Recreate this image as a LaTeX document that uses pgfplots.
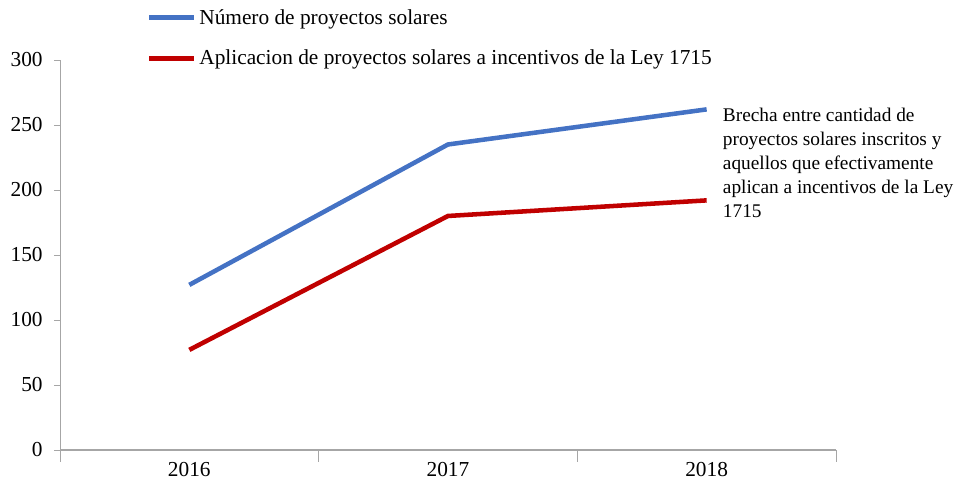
\documentclass[border=0pt]{standalone}
\usepackage{fontspec}
\setmainfont{Liberation Serif}
\usepackage{pgfplots}
\pgfplotsset{compat=1.18}
\definecolor{cblue}{HTML}{4472C4}
\definecolor{cred}{HTML}{C00000}
\definecolor{axgray}{HTML}{A6A6A6}
\begin{document}
\begin{tikzpicture}
\begin{axis}[
  scale only axis, width=582pt, height=292.5pt,
  xmin=0, xmax=3, ymin=0, ymax=300,
  axis x line=bottom, axis y line=left,
  x axis line style={-, axgray, line width=1.5pt},
  y axis line style={-, axgray, line width=0.6pt},
  xtick={0.5,1.5,2.5}, xticklabels={2016,2017,2018},
  minor xtick={0,1,2,3},
  major x tick style={draw=none},
  minor x tick style={axgray, line width=0.6pt},
  y tick style={axgray, line width=0.6pt},
  ytick={0,50,...,300},
  tick align=outside,
  major tick length=4.5pt, minor tick length=9pt,
  tick label style={font=\fontsize{16}{18}\selectfont},
  /pgf/number format/assume math mode=true,
  yticklabel style={xshift=-5pt},
  xticklabel style={yshift=-1pt},
  clip=false,
  legend style={at={(axis description cs:0.112,1.056)}, anchor=west,
    draw=none, fill=none, inner sep=0pt, row sep=14pt,
    font=\fontsize{16}{18}\selectfont,
    nodes={inner sep=2pt}},
  legend cell align=left,
  legend image code/.code={\draw[#1] (0pt,0pt) -- (33.75pt,0pt);},
]
\addplot[cblue, line width=3.4pt] coordinates {(0.5,127) (1.5,235) (2.5,262)};
\addlegendentry{Número de proyectos solares}
\addplot[cred, line width=3.4pt] coordinates {(0.5,77) (1.5,180) (2.5,192)};
\addlegendentry{Aplicacion de proyectos solares a incentivos de la Ley 1715}
\node[anchor=north west, align=left, inner sep=0pt,
  font=\fontsize{14.5}{18}\selectfont] at (axis description cs:0.854,0.877)
  {Brecha entre cantidad de\\ proyectos solares inscritos y\\ aquellos que efectivamente\\ aplican a incentivos de la Ley\\ 1715};
\path (axis description cs:-0.0773,-0.0923) rectangle (axis description cs:1.1534,1.1538);
\end{axis}
\end{tikzpicture}
\end{document}
